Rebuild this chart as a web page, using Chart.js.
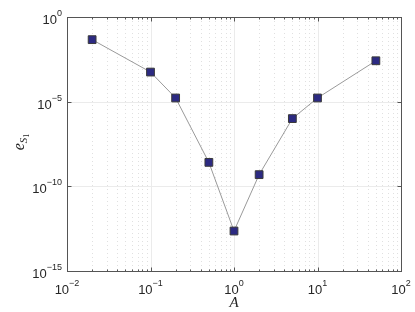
<!DOCTYPE html>
<html>
<head>
<meta charset="utf-8">
<script src="https://cdn.jsdelivr.net/npm/chart.js@4"></script>
<style>
  html, body { margin: 0; padding: 0; background: #fff; }
</style>
</head>
<body>
<canvas id="errChart" width="415" height="312"></canvas>
<script>
const aValues = [0.02, 0.1, 0.2, 0.5, 1, 2, 5, 10, 50];
const errValues = [4.6e-2, 5.6e-4, 1.65e-5, 2.6e-9, 2.3e-13, 4.9e-10, 1.0e-6, 1.65e-5, 2.6e-3];
const xTickExps = [-2, -1, 0, 1, 2];
const yTickExps = [0, -5, -10, -15];

const tickFont = '"Liberation Sans", Arial, sans-serif';
const mathFont = '"Liberation Serif", "DejaVu Serif", serif';

// draws "10" with a raised exponent, anchored by align
function drawPow(ctx, exp, x, y, align) {
  const sup = String(exp).replace("-", "\u2212");
  ctx.font = "13px " + tickFont;
  const wBase = ctx.measureText("10").width;
  ctx.font = "9px " + tickFont;
  const wSup = ctx.measureText(sup).width;
  let left = x;
  if (align === "right") left = x - wBase - wSup;
  if (align === "center") left = x - (wBase + wSup) / 2;
  ctx.textAlign = "left";
  ctx.textBaseline = "alphabetic";
  ctx.font = "13px " + tickFont;
  ctx.fillText("10", left, y);
  ctx.font = "9px " + tickFont;
  ctx.fillText(sup, left + wBase, y - 8);
}

const axesPlugin = {
  id: "matlabAxes",
  beforeDatasetsDraw(chart) {
    const ctx = chart.ctx;
    const area = chart.chartArea;
    const xs = chart.scales.x, ys = chart.scales.y;
    ctx.save();
    // minor x grid (dotted)
    ctx.strokeStyle = "#e0e0e0";
    ctx.lineWidth = 1;
    ctx.setLineDash([1, 3]);
    for (let e = -2; e < 2; e++) {
      for (let m = 2; m <= 9; m++) {
        const px = Math.round(xs.getPixelForValue(m * Math.pow(10, e))) + 0.5;
        ctx.beginPath();
        ctx.moveTo(px, area.top);
        ctx.lineTo(px, area.bottom);
        ctx.stroke();
      }
    }
    // major grid (solid)
    ctx.setLineDash([]);
    ctx.strokeStyle = "#ebebeb";
    xTickExps.forEach(e => {
      const px = Math.round(xs.getPixelForValue(Math.pow(10, e))) + 0.5;
      ctx.beginPath();
      ctx.moveTo(px, area.top);
      ctx.lineTo(px, area.bottom);
      ctx.stroke();
    });
    yTickExps.forEach(e => {
      const py = Math.round(ys.getPixelForValue(Math.pow(10, e))) + 0.5;
      ctx.beginPath();
      ctx.moveTo(area.left, py);
      ctx.lineTo(area.right, py);
      ctx.stroke();
    });
    ctx.restore();
  },
  afterDraw(chart) {
    const ctx = chart.ctx;
    const area = chart.chartArea;
    const xs = chart.scales.x, ys = chart.scales.y;
    ctx.save();
    ctx.strokeStyle = "#555";
    ctx.lineWidth = 1;
    const L = Math.round(area.left) + 0.5, R = Math.round(area.right) + 0.5;
    const T = Math.round(area.top) + 0.5, B = Math.round(area.bottom) + 0.5;
    ctx.strokeRect(L, T, R - L, B - T);

    // ticks pointing inward
    ctx.beginPath();
    for (let e = -2; e <= 2; e++) {
      for (let m = 1; m <= 9; m++) {
        if (e === 2 && m > 1) break;
        const px = Math.round(xs.getPixelForValue(m * Math.pow(10, e))) + 0.5;
        const len = m === 1 ? 4 : 2;
        ctx.moveTo(px, B); ctx.lineTo(px, B - len);
        ctx.moveTo(px, T); ctx.lineTo(px, T + len);
      }
    }
    yTickExps.forEach(e => {
      const py = Math.round(ys.getPixelForValue(Math.pow(10, e))) + 0.5;
      ctx.moveTo(L, py); ctx.lineTo(L + 4, py);
      ctx.moveTo(R, py); ctx.lineTo(R - 4, py);
    });
    ctx.stroke();

    // tick labels
    ctx.fillStyle = "#262626";
    xTickExps.forEach(e => {
      drawPow(ctx, e, xs.getPixelForValue(Math.pow(10, e)), area.bottom + 23, "center");
    });
    yTickExps.forEach(e => {
      drawPow(ctx, e, area.left - 5, ys.getPixelForValue(Math.pow(10, e)) + 7, "right");
    });

    // axis titles
    ctx.font = "italic 15px " + mathFont;
    ctx.textAlign = "center";
    ctx.textBaseline = "alphabetic";
    ctx.fillText("A", (area.left + area.right) / 2, 307);

    ctx.translate(24, 142);
    ctx.rotate(-Math.PI / 2);
    ctx.textAlign = "left";
    ctx.font = "italic 16px " + mathFont;
    const wE = ctx.measureText("e").width;
    ctx.font = "italic 11px " + mathFont;
    const wS = ctx.measureText("S").width;
    ctx.font = "8px " + mathFont;
    const w1 = ctx.measureText("1").width;
    const x0 = -(wE + wS + w1) / 2;
    ctx.font = "italic 16px " + mathFont;
    ctx.fillText("e", x0, 0);
    ctx.font = "italic 11px " + mathFont;
    ctx.fillText("S", x0 + wE, 3);
    ctx.font = "8px " + mathFont;
    ctx.fillText("1", x0 + wE + wS, 5);
    ctx.restore();
  }
};

const errChart = new Chart(document.getElementById("errChart"), {
  type: "scatter",
  data: {
    datasets: [{
      data: aValues.map((a, i) => ({ x: a, y: errValues[i] })),
      showLine: true,
      borderColor: "#9a9a9a",
      borderWidth: 1,
      pointStyle: "rect",
      pointRadius: 5.5,
      pointHoverRadius: 5.5,
      pointBackgroundColor: "#2c2a82",
      pointBorderColor: "#3a3a3a",
      pointBorderWidth: 1
    }]
  },
  options: {
    responsive: false,
    animation: false,
    devicePixelRatio: 1,
    layout: { padding: { left: 67, top: 17, right: 14, bottom: 41 } },
    plugins: { legend: { display: false }, tooltip: { enabled: false } },
    scales: {
      x: {
        type: "logarithmic",
        min: 0.01,
        max: 100,
        grid: { display: false },
        border: { display: false },
        ticks: { display: false },
        afterFit(scale) { scale.height = 0; }
      },
      y: {
        type: "logarithmic",
        min: 1e-15,
        max: 1,
        grid: { display: false },
        border: { display: false },
        ticks: { display: false },
        afterFit(scale) { scale.width = 0; }
      }
    }
  },
  plugins: [axesPlugin]
});
</script>
</body>
</html>
